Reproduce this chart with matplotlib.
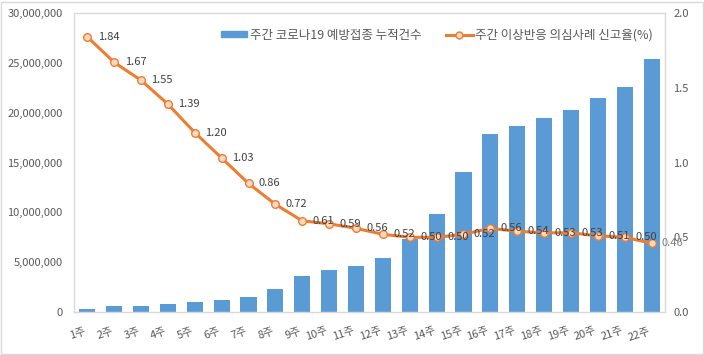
import matplotlib
matplotlib.use("Agg")
import matplotlib.pyplot as plt
from matplotlib.patches import Rectangle
from matplotlib.lines import Line2D
from matplotlib.ticker import FuncFormatter

plt.rcParams['font.family'] = ['Noto Sans CJK KR', 'DejaVu Sans']

weeks = [f"{i}주" for i in range(1, 23)]
cumulative = [300000, 600000, 600000, 800000, 1000000, 1200000, 1500000, 2300000,
              3600000, 4200000, 4600000, 5400000, 7300000, 9800000, 14100000, 17900000,
              18700000, 19500000, 20300000, 21500000, 22600000, 25400000]
rate = [1.84, 1.67, 1.55, 1.39, 1.20, 1.03, 0.86, 0.72, 0.61, 0.59, 0.56, 0.52,
        0.50, 0.50, 0.52, 0.56, 0.54, 0.53, 0.53, 0.51, 0.50, 0.46]
bar_label = "주간 코로나19 예방접종 누적건수"
line_label = "주간 이상반응 의심사례 신고율(%)"

BLUE = '#5B9BD5'
ORANGE = '#ED7D31'
PEACH = '#FBD9C2'
TXT = '#595959'
GRID = '#D9D9D9'

fig = plt.figure(figsize=(7.04, 3.55), dpi=100)
fig.patches.append(Rectangle((0.0015, 0.003), 0.997, 0.992, transform=fig.transFigure,
                             fill=False, edgecolor=GRID, linewidth=1))
ax = fig.add_axes([0.105, 0.121, 0.8396, 0.8423])
ax2 = ax.twinx()

x = list(range(len(weeks)))
ax.bar(x, cumulative, width=0.6, color=BLUE, zorder=2)
ax.set_xlim(-0.5, len(weeks) - 0.5)
ax.set_ylim(0, 30000000)
ax.set_yticks(range(0, 30000001, 5000000))
ax.yaxis.set_major_formatter(FuncFormatter(lambda v, p: f"{int(v):,}"))
ax.set_xticks(x)
ax.set_xticklabels(weeks, rotation=18, ha='right', rotation_mode='default')
ax.tick_params(axis='y', length=0, labelsize=8, colors=TXT, pad=8)
ax.tick_params(axis='x', length=0, labelsize=8, colors=TXT, pad=10)
for s in ax.spines.values():
    s.set_color(GRID)
    s.set_linewidth(1)

ax2.plot(x, rate, color=ORANGE, linewidth=2.2, marker='o', markersize=5.5,
         markerfacecolor=PEACH, markeredgecolor=ORANGE, markeredgewidth=1, zorder=3)
ax2.set_ylim(0, 2.0)
ax2.set_yticks([0, 0.5, 1.0, 1.5, 2.0])
ax2.yaxis.set_major_formatter(FuncFormatter(lambda v, p: f"{v:.1f}"))
ax2.tick_params(axis='y', length=0, labelsize=8, colors=TXT, pad=6)
for s in ax2.spines.values():
    s.set_visible(False)

for i, (xi, r) in enumerate(zip(x, rate)):
    col = '#808080' if i == len(rate) - 1 else '#404040'
    ax2.annotate(f"{r:.2f}", (xi, r), xytext=(7.5, 0), textcoords='offset points',
                 ha='left', va='center', fontsize=8, color=col, zorder=4,
                 annotation_clip=False)

handles = [Rectangle((0, 0), 1, 1, color=BLUE),
           Line2D([], [], color=ORANGE, linewidth=2.2, marker='o', markersize=5,
                  markerfacecolor=PEACH, markeredgecolor=ORANGE)]
leg = ax.legend(handles, [bar_label, line_label], loc='upper center',
                bbox_to_anchor=(0.614, 0.985), ncol=2, frameon=False, fontsize=9,
                handlelength=2.1, handleheight=0.35, handletextpad=0.2,
                columnspacing=2.0, labelcolor=TXT)

fig.savefig('out.png', dpi=100)
